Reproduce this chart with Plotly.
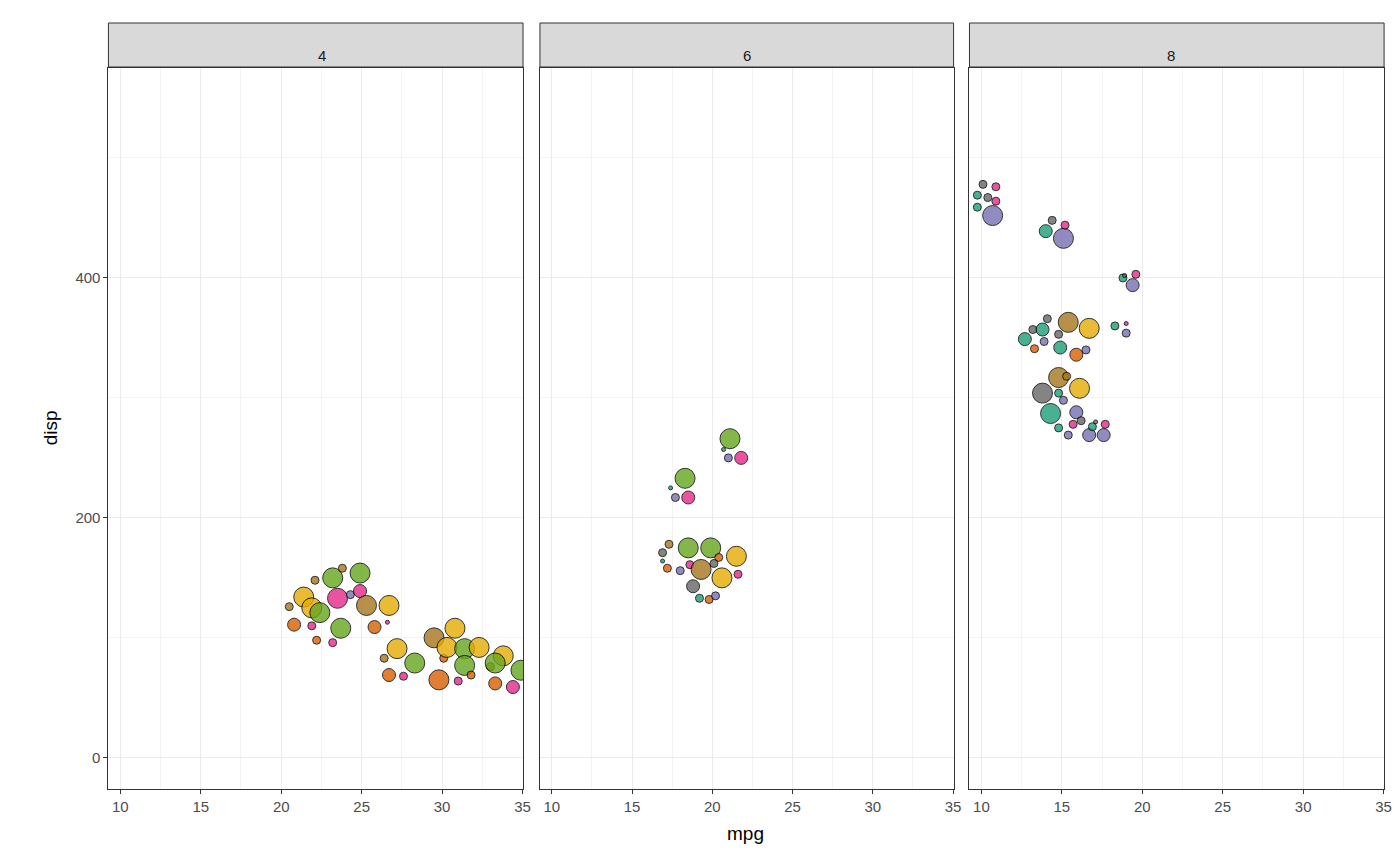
import plotly.graph_objects as go

# colour codes -> Dark2 palette
PAL = {"teal": "#1B9E77", "orange": "#D95F02", "purple": "#7570B3", "pink": "#E7298A",
       "green": "#66A61E", "yellow": "#E6AB02", "brown": "#A6761D", "grey": "#666666"}
SIZES = {"T": 4, "S": 8, "M": 13, "L": 20}

cyl4_mpg = [20.5, 21.4, 20.8, 22.1, 21.9, 22.4, 21.9, 22.2, 23.2, 23.2, 23.8, 23.5, 23.7, 24.3, 24.9, 24.9,
            25.3, 25.8, 26.6, 26.7, 26.4, 26.7, 27.2, 27.6, 28.3, 29.5, 29.8, 30.1, 30.8, 30.3, 31.0, 31.4,
            31.4, 31.8, 32.3, 33.0, 33.3, 33.8, 33.3, 34.4, 34.9]
cyl4_disp = [126, 134, 111, 148, 125, 121, 110, 98, 96, 150, 158, 133, 108, 136, 154, 139,
             127, 109, 113, 127, 83, 69, 91, 68, 79, 100, 65, 83, 108, 92, 64, 91,
             77, 69, 92, 76, 62, 85, 79, 59, 73]
cyl4_col = ["brown", "yellow", "orange", "brown", "yellow", "green", "pink", "orange", "pink", "green", "brown",
            "pink", "green", "purple", "green", "pink", "brown", "orange", "pink", "yellow", "brown", "orange",
            "yellow", "pink", "green", "brown", "orange", "orange", "yellow", "yellow", "pink", "green", "green",
            "orange", "yellow", "brown", "orange", "yellow", "green", "pink", "green"]
cyl4_size = ["S", "L", "M", "S", "L", "L", "S", "S", "S", "L", "S", "L", "L", "S", "L", "M", "L", "M", "T", "L",
             "S", "M", "L", "S", "L", "L", "L", "S", "L", "L", "S", "L", "L", "S", "L", "S", "M", "L", "L", "M", "L"]

cyl6_mpg = [18.3, 18.5, 17.4, 17.7, 21.1, 21.8, 21.0, 20.7, 16.9, 17.3, 17.2, 18.0, 18.5, 18.6, 19.9, 19.3,
            18.8, 19.2, 19.8, 20.2, 20.6, 20.4, 21.5, 21.6, 20.1, 16.9]
cyl6_disp = [233, 217, 225, 217, 266, 250, 250, 257, 171, 178, 158, 156, 175, 161, 175, 157,
             143, 133, 132, 135, 150, 167, 168, 153, 162, 164]
cyl6_col = ["green", "pink", "teal", "purple", "green", "pink", "purple", "teal", "grey", "brown", "orange",
            "purple", "green", "pink", "green", "brown", "grey", "teal", "orange", "purple", "yellow", "orange",
            "yellow", "pink", "grey", "teal"]
cyl6_size = ["L", "M", "T", "S", "L", "M", "S", "T", "S", "S", "S", "S", "L", "S", "L", "L", "M", "S", "S", "S",
             "L", "S", "L", "S", "S", "T"]

cyl8_mpg = [9.75, 10.1, 9.75, 10.7, 10.9, 10.9, 10.4, 14.4, 14.0, 15.1, 15.2, 18.8, 19.4, 19.6, 18.9, 12.7,
            13.2, 14.1, 13.8, 13.9, 13.3, 14.8, 15.4, 14.9, 15.9, 16.7, 16.5, 18.3, 19.0, 19.0, 13.8, 14.8,
            16.1, 15.3, 14.3, 14.8, 15.1, 14.8, 15.4, 15.9, 15.7, 16.2, 16.7, 16.9, 17.1, 17.6, 17.7]
cyl8_disp = [469, 478, 459, 452, 476, 464, 467, 448, 439, 433, 444, 400, 394, 403, 402, 349,
             357, 366, 357, 347, 341, 353, 363, 342, 336, 358, 340, 360, 362, 354, 304, 317,
             308, 318, 287, 304, 298, 275, 269, 288, 278, 281, 269, 276, 280, 269, 278]
cyl8_col = ["teal", "grey", "teal", "purple", "pink", "pink", "grey", "grey", "teal", "purple", "pink", "teal",
            "purple", "pink", "grey", "teal", "grey", "grey", "teal", "purple", "orange", "grey", "brown", "teal",
            "orange", "yellow", "purple", "teal", "pink", "purple", "grey", "brown", "yellow", "brown", "teal",
            "teal", "purple", "teal", "purple", "purple", "pink", "grey", "purple", "teal", "grey", "purple", "pink"]
cyl8_size = ["S", "S", "S", "L", "S", "S", "S", "S", "M", "L", "S", "S", "M", "S", "T", "M", "S", "S", "M", "S",
             "S", "S", "L", "M", "M", "L", "S", "S", "T", "S", "L", "L", "L", "S", "L", "S", "S", "S", "S", "M",
             "S", "S", "M", "S", "T", "M", "S"]

facets = ["4", "6", "8"]
panels = [(cyl4_mpg, cyl4_disp, cyl4_col, cyl4_size),
          (cyl6_mpg, cyl6_disp, cyl6_col, cyl6_size),
          (cyl8_mpg, cyl8_disp, cyl8_col, cyl8_size)]

W, H = 1400, 866
xdoms = [(101, 518), (535, 951), (967, 1384)]
ydom = [(H - 781) / H, (H - 60) / H]

fig = go.Figure()
layout = dict(width=W, height=H, margin=dict(l=0, r=0, t=0, b=0), showlegend=False,
              paper_bgcolor="white", plot_bgcolor="white",
              font=dict(family="Liberation Sans, Arial", size=15, color="#4d4d4d"))
shapes, annotations = [], []
for i, (mpg, disp, col, sz) in enumerate(panels):
    n = "" if i == 0 else str(i + 1)
    fig.add_trace(go.Scatter(
        x=mpg, y=disp, mode="markers", xaxis="x" + n, yaxis="y" + n,
        marker=dict(color=[PAL[c] for c in col], size=[SIZES[s] for s in sz],
                    opacity=0.8, line=dict(color="black", width=1))))
    dom = [xdoms[i][0] / W, xdoms[i][1] / W]
    layout["xaxis" + n] = dict(domain=dom, range=[9.26, 35.03], tickvals=[10, 15, 20, 25, 30, 35],
                               showgrid=True, gridcolor="#ebebeb", gridwidth=1.2,
                               minor=dict(tickvals=[12.5, 17.5, 22.5, 27.5, 32.5], showgrid=True,
                                          gridcolor="#f3f3f3", gridwidth=0.6),
                               showline=True, linecolor="#333333", mirror=True, linewidth=1,
                               ticks="outside", ticklen=4, tickcolor="#333333", zeroline=False,
                               anchor="y" + n, tickfont=dict(size=15, color="#4d4d4d"))
    layout["yaxis" + n] = dict(domain=ydom, range=[-26, 575], tickvals=[0, 200, 400],
                               showgrid=True, gridcolor="#ebebeb", gridwidth=1.2,
                               minor=dict(tickvals=[100, 300, 500], showgrid=True,
                                          gridcolor="#f3f3f3", gridwidth=0.6),
                               showline=True, linecolor="#333333", mirror=True, linewidth=1,
                               ticks="outside" if i == 0 else "", ticklen=4, tickcolor="#333333",
                               showticklabels=(i == 0), zeroline=False, anchor="x" + n,
                               tickfont=dict(size=15, color="#4d4d4d"))
    shapes.append(dict(type="rect", xref="paper", yref="paper", x0=dom[0], x1=dom[1],
                       y0=(H - 59) / H, y1=(H - 15) / H, fillcolor="#d9d9d9",
                       line=dict(color="#333333", width=1)))
    annotations.append(dict(text=facets[i], xref="paper", yref="paper", x=(dom[0] + dom[1]) / 2,
                            y=(H - 37) / H, showarrow=False, font=dict(size=15, color="#1a1a1a")))

annotations.append(dict(text="mpg", xref="paper", yref="paper", x=742 / W, y=(H - 838) / H,
                        showarrow=False, font=dict(size=19, color="black")))
annotations.append(dict(text="disp", xref="paper", yref="paper", x=30 / W, y=(H - 420) / H,
                        showarrow=False, textangle=-90, font=dict(size=19, color="black")))
layout["shapes"] = shapes
layout["annotations"] = annotations
fig.update_layout(**layout)
fig.write_html("out.html")
